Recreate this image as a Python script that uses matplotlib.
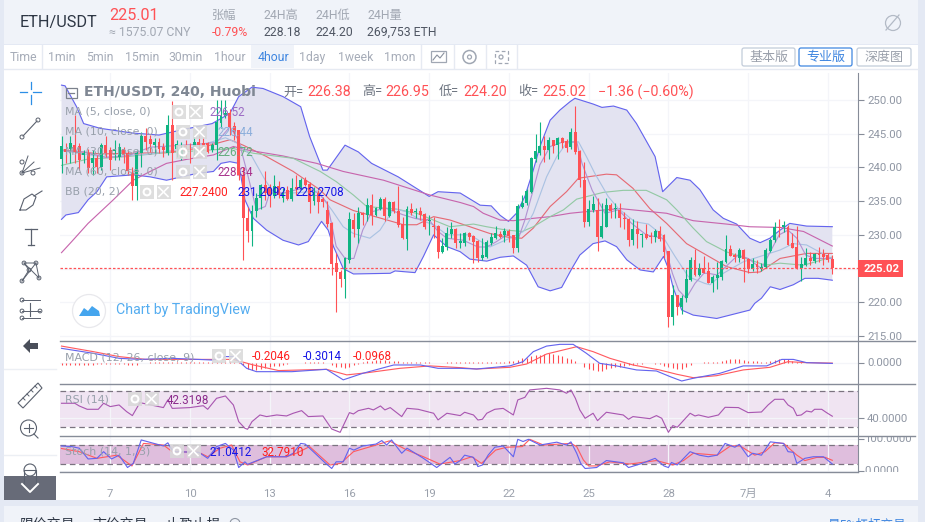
"""ETH/USDT 4 hour chart with overlays and oscillators, inside the exchange page."""

import matplotlib
matplotlib.use("Agg")
import matplotlib.pyplot as plt
from matplotlib.patches import Circle, FancyBboxPatch, Polygon, Rectangle

plt.rcParams["font.family"] = ["Roboto", "Noto Sans CJK SC", "DejaVu Sans"]
plt.rcParams["axes.unicode_minus"] = False

# ── Candles ────────────────────────────────────────────────────────────────
opens = [
    241.2, 242.8, 242.8, 243.3, 243.2, 241.9, 242.1, 240.6, 241.4, 240.1,
    243.3, 242.6, 242.5, 241.6, 242.8, 242.2, 239.1, 237.2, 242.1, 244.6,
    244.2, 243.3, 243.7, 243.1, 242.1, 246.3, 242.8, 241.4, 243.3, 243.3,
    243.1, 243.8, 243.6, 243.6, 242.6, 243.3, 246.6, 247.6, 248.0, 246.1,
    245.55, 238.9, 232.45, 230.5, 233.6, 235.4, 237.4, 236.9, 235.7, 237.2,
    235.4, 236.65, 235.3, 237.1, 237.05, 238.2, 237.6, 235.0, 236.15, 235.27,
    233.69, 231.7, 225.78, 224.54, 223.46, 226.27, 232.2, 230.82, 233.29, 232.95,
    234.43, 232.95, 233.79, 235.32, 232.8, 234.87, 233.59, 231.6, 229.39, 233.79,
    233.4, 233.54, 233.1, 232.1, 231.32, 231.32, 227.41, 228.15, 230.13, 230.82,
    228.74, 228.74, 230.23, 229.83, 229.14, 226.52, 226.67, 228.74, 229.49, 230.13,
    229.98, 230.57, 229.98, 228.0, 234.08, 234.68, 236.41, 241.2, 242.09, 243.18,
    242.58, 244.07, 243.33, 244.32, 243.97, 242.98, 245.2, 242.49, 238.13, 231.95,
    233.68, 233.68, 229.63, 231.21, 234.42, 233.78, 233.68, 232.5, 232.35, 229.23,
    230.86, 230.0, 230.12, 229.83, 229.63, 230.57, 229.97, 227.6, 217.86, 221.08,
    219.35, 220.58, 223.3, 226.27, 224.04, 225.03, 224.64, 222.82, 223.66, 223.8,
    226.03, 227.91, 227.02, 226.62, 227.76, 226.37, 224.89, 225.68, 224.89, 225.19,
    227.66, 229.24, 231.12, 231.12, 231.12, 228.75, 228.25, 225.04, 225.53, 226.62,
    226.18, 227.16, 227.16, 227.02, 226.38,
]
highs = [
    244.7, 243.6, 244.6, 247.8, 243.6, 242.6, 242.8, 242.6, 241.8, 243.6,
    244.6, 243.1, 244.1, 243.6, 243.1, 242.6, 240.1, 242.6, 245.3, 245.8,
    244.8, 244.3, 244.3, 243.6, 247.8, 249.8, 244.1, 243.8, 244.1, 243.6,
    244.6, 244.8, 244.8, 243.8, 243.6, 250.0, 250.0, 250.0, 248.6, 246.8,
    245.55, 240.0, 234.2, 234.4, 236.2, 237.6, 239.4, 237.6, 238.9, 238.0,
    236.9, 237.2, 238.5, 238.9, 238.5, 238.6, 237.9, 237.15, 236.65, 235.57,
    235.07, 231.9, 227.26, 224.8, 226.67, 233.44, 233.2, 234.18, 233.44, 235.42,
    236.06, 234.18, 235.57, 235.67, 235.07, 235.07, 237.25, 232.7, 234.28, 234.68,
    233.93, 234.08, 233.29, 232.95, 232.7, 231.4, 229.49, 231.22, 231.96, 230.97,
    230.33, 230.47, 230.47, 229.98, 229.24, 229.49, 229.24, 230.23, 231.31, 230.62,
    230.97, 230.82, 229.98, 234.58, 235.91, 236.75, 241.6, 244.91, 246.69, 244.66,
    244.46, 244.07, 244.46, 244.56, 244.17, 245.8, 249.11, 242.58, 240.85, 235.17,
    235.76, 235.41, 234.67, 235.51, 234.77, 234.67, 234.77, 233.43, 232.45, 232.3,
    232.05, 230.22, 231.61, 230.47, 230.82, 231.31, 230.12, 227.6, 222.56, 221.08,
    221.08, 224.88, 226.66, 227.85, 225.77, 226.86, 226.03, 224.05, 226.03, 226.28,
    229.98, 228.5, 227.26, 228.0, 227.86, 226.52, 226.52, 226.28, 225.78, 228.0,
    229.49, 231.96, 232.31, 232.06, 231.47, 230.33, 231.32, 226.77, 228.0, 227.51,
    227.36, 228.25, 227.86, 227.26, 226.95,
]
lows = [
    239.1, 240.6, 240.6, 240.6, 239.6, 240.6, 239.1, 238.9, 239.1, 239.6,
    241.6, 239.6, 241.1, 241.1, 240.6, 238.9, 235.2, 235.2, 240.1, 242.6,
    242.3, 242.1, 242.1, 241.6, 241.8, 238.1, 241.6, 241.1, 241.6, 240.6,
    241.8, 242.6, 242.6, 242.1, 242.3, 241.1, 245.8, 247.3, 244.8, 244.1,
    238.1, 226.3, 229.0, 228.35, 232.6, 233.9, 235.2, 234.1, 235.4, 235.4,
    234.8, 235.2, 235.0, 235.9, 236.65, 237.25, 233.2, 234.4, 233.2, 234.18,
    231.22, 224.05, 218.6, 222.22, 220.59, 225.88, 229.73, 228.84, 231.46, 232.1,
    231.46, 232.8, 233.69, 232.1, 232.7, 233.2, 231.22, 229.39, 227.76, 232.95,
    232.45, 232.2, 230.82, 229.98, 229.49, 226.52, 227.26, 227.76, 229.49, 228.0,
    228.0, 228.4, 229.24, 225.78, 226.03, 226.27, 226.52, 228.5, 229.34, 229.49,
    228.99, 228.99, 227.26, 227.51, 233.93, 234.43, 236.16, 240.86, 241.84, 240.86,
    241.2, 242.09, 241.2, 242.83, 242.34, 242.68, 241.99, 237.15, 231.21, 231.31,
    233.43, 227.65, 229.48, 231.11, 232.45, 232.45, 231.21, 230.86, 228.39, 228.49,
    227.99, 228.24, 229.43, 228.74, 228.99, 229.13, 226.52, 216.38, 216.63, 218.11,
    218.21, 220.09, 223.2, 223.89, 223.89, 224.29, 222.82, 221.58, 221.93, 223.31,
    225.88, 226.87, 226.03, 226.03, 223.06, 224.4, 224.69, 224.3, 224.69, 225.04,
    227.51, 229.0, 229.74, 230.48, 228.5, 228.0, 224.89, 223.21, 225.39, 225.53,
    225.78, 226.03, 225.53, 226.03, 224.20,
]
closes = [
    243.2, 242.3, 243.6, 242.3, 241.1, 242.1, 239.9, 241.4, 240.1, 243.3,
    242.2, 241.1, 242.8, 243.1, 241.8, 239.4, 237.2, 242.2, 244.6, 243.8,
    243.5, 243.8, 242.8, 242.6, 246.3, 242.1, 243.5, 242.8, 243.1, 242.8,
    243.8, 243.3, 243.1, 242.3, 243.3, 246.8, 247.6, 248.0, 246.0, 245.3,
    238.9, 232.45, 230.5, 233.6, 235.4, 237.4, 236.2, 235.7, 237.2, 235.9,
    236.2, 235.3, 237.0, 236.75, 238.2, 237.4, 234.9, 236.4, 234.9, 234.92,
    231.6, 225.68, 224.54, 223.46, 226.52, 232.3, 230.82, 233.2, 233.0, 234.43,
    232.95, 233.93, 235.32, 232.85, 234.87, 233.59, 231.46, 229.49, 233.79, 233.29,
    233.5, 232.9, 231.12, 232.2, 231.22, 227.5, 228.35, 230.23, 230.82, 228.84,
    229.14, 230.23, 229.63, 228.99, 226.52, 227.01, 228.99, 229.63, 230.23, 229.73,
    230.57, 229.83, 228.0, 234.28, 234.78, 236.55, 241.35, 242.44, 243.18, 242.58,
    244.07, 243.18, 244.32, 243.67, 242.83, 245.2, 242.34, 238.14, 231.95, 233.78,
    234.57, 229.73, 231.31, 234.42, 233.58, 233.93, 232.45, 232.3, 229.23, 230.86,
    230.07, 230.07, 229.58, 229.73, 230.57, 229.33, 227.5, 217.86, 221.08, 219.35,
    220.68, 223.45, 226.27, 224.04, 225.03, 224.39, 222.91, 223.71, 224.05, 226.13,
    227.91, 226.92, 226.67, 227.76, 226.37, 224.89, 225.68, 225.19, 225.19, 227.76,
    229.24, 231.12, 230.97, 231.47, 228.5, 228.0, 225.04, 225.68, 226.52, 226.13,
    227.16, 227.07, 226.77, 226.28, 225.02,
]

# ── Overlays, read at the bends of each line ───────────────────────────────
bb_upper_idx = [0, 0.8, 3.4, 5, 8.7, 16, 22, 27, 34, 38, 40, 43, 45.5, 50, 54, 56, 59, 60, 64,
                67, 70, 76, 83, 85, 90, 92, 94.5, 97, 99, 100.9, 102.7, 104.6, 106.5, 108,
                110.3, 112.5, 114.8, 115.9, 120, 122, 124.6, 127.6, 129.8, 134, 135.7, 138.9,
                141.9, 144.1, 147.1, 149.4, 152.4, 155.4, 157.7, 159.9, 162.2, 164.4, 168.2, 174]
bb_upper_val = [252.2, 252.1, 249.0, 246.5, 245.8, 245.1, 244.8, 245.55, 246.5, 248.0, 250.5,
                251.9, 251.7, 250.5, 249.0, 244.6, 239.6, 239.6, 243.3, 242.3, 240.6, 238.6,
                235.7, 236.4, 236.2, 235.4, 234.4, 234.3, 232.9, 232.0, 233.2, 235.7, 239.6,
                243.1, 247.0, 248.5, 249.75, 250.25, 249.4, 248.9, 249.1, 248.5, 246.5, 241.6,
                236.4, 238.5, 238.1, 236.7, 233.7, 232.45, 231.6, 229.5, 228.84, 229.5, 230.7,
                231.7, 231.3, 231.21]
bb_lower_idx = [0, 1, 3.8, 6, 8, 10.2, 16.2, 20, 23.7, 30.5, 34.3, 36, 38, 40, 41.4, 43.3, 46.3,
                50, 53.5, 55.7, 58.7, 60.2, 61.4, 63.6, 65.9, 74.2, 75.3, 79.8, 81.7, 84, 87, 90,
                92.2, 96, 99, 102, 105, 107.6, 110.3, 112.9, 115.2, 117, 120, 122.7, 125.3, 127.6,
                130.6, 133.6, 135.9, 137, 138.1, 140, 142.6, 147.9, 155.4, 156.5, 158, 160, 162.2,
                165.2, 167.8, 170.8, 174]
bb_lower_val = [232.3, 232.95, 233.3, 235.2, 236.4, 238.6, 238.9, 238.6, 238.1, 239.1, 239.4,
                240.6, 240.85, 240.6, 235.2, 232.45, 230.7, 229.2, 228.5, 229.0, 232.0, 230.7,
                228.25, 225.0, 224.2, 224.3, 224.65, 224.4, 226.8, 230.0, 228.25, 227.5, 226.4,
                226.1, 226.67, 226.87, 225.5, 222.3, 221.7, 222.2, 225.0, 227.0, 228.7, 229.1,
                228.25, 226.3, 224.8, 224.5, 226.8, 225.0, 222.1, 218.85, 218.1, 217.6, 218.85,
                219.85, 220.6, 222.3, 221.9, 222.6, 223.55, 223.55, 223.27]
bb_basis_idx = [0, 8.7, 16, 23.7, 31, 38, 41, 46.3, 52.3, 58.4, 60.6, 65.9, 71.9, 77.2, 80.2, 84,
                87.7, 92.2, 96.7, 101.2, 103.9, 106.5, 110.3, 114, 116.7, 123, 125.3, 129, 132.8,
                136.6, 141.1, 145.6, 150.1, 155.4, 157.7, 162.2, 168.2, 174]
bb_basis_val = [242.6, 242.0, 242.1, 242.2, 242.85, 244.1, 243.3, 241.6, 239.4, 236.65, 235.2,
                233.6, 232.5, 231.5, 231.5, 232.7, 232.2, 231.2, 230.2, 229.6, 229.5, 231.0,
                234.2, 236.4, 238.4, 239.0, 238.9, 236.9, 233.9, 231.7, 228.7, 227.0, 225.3,
                224.4, 224.5, 226.5, 227.25, 227.24]
ma5_idx = [0, 5, 10, 15, 20, 25, 30, 35, 38, 40, 42, 44, 46, 47, 50, 55, 58, 60, 62, 64, 66, 68,
           70, 73, 77, 80, 83, 85, 87, 90.7, 94, 96, 98.2, 100.5, 103, 104.6, 106.5, 108, 110.3,
           113.3, 116.3, 117.5, 119.8, 122.7, 125.7, 128.7, 132, 135.7, 137.9, 139.3, 141, 143,
           145, 146, 148, 152.7, 155, 158, 160, 162, 164, 166, 168, 170, 174]
ma5_val = [242.5, 242.3, 241.5, 241.7, 243.0, 243.2, 243.4, 243.7, 246.0, 244.0, 239.0, 233.7,
           234.2, 236.2, 236.2, 237.0, 236.2, 234.7, 228.3, 226.5, 226.5, 230.7, 233.4, 234.0,
           233.0, 232.4, 232.2, 230.5, 229.5, 229.2, 228.2, 228.2, 229.0, 230.0, 229.2, 232.2,
           236.7, 240.4, 243.1, 243.8, 243.8, 240.6, 236.6, 233.2, 233.7, 231.7, 230.0, 229.5,
           224.3, 221.8, 220.6, 222.8, 224.3, 224.3, 224.05, 227.0, 226.5, 225.0, 227.5, 230.0,
           230.7, 229.5, 227.0, 226.5, 226.52]
ma10_idx = [0, 10, 20, 30, 37, 40, 43, 46, 48, 52, 58, 59, 61, 63.6, 65.9, 69.6, 71.9, 75, 78, 81,
            84, 87, 92.2, 96.7, 101.2, 104.3, 106.5, 109.5, 111.8, 114, 116.7, 118.5, 120.4, 123.4,
            125.7, 129.4, 132.5, 135.5, 138.5, 141.5, 145.2, 146.4, 149.4, 153.9, 157.7, 162.2,
            165.2, 168.2, 174]
ma10_val = [242.5, 241.5, 242.0, 243.0, 244.4, 243.5, 241.6, 238.1, 236.2, 236.2, 236.5, 235.4,
            233.7, 231.2, 230.2, 229.5, 230.7, 233.9, 233.4, 232.2, 231.5, 230.0, 230.0, 228.2,
            229.5, 230.5, 233.2, 238.6, 241.6, 243.6, 243.8, 241.6, 239.1, 235.7, 233.9, 231.95,
            231.6, 230.0, 226.8, 223.8, 222.8, 222.6, 224.3, 226.0, 226.8, 227.75, 228.7, 228.5,
            226.44]
ma30_idx = [0, 5.7, 14.7, 22, 38.8, 43.3, 52.3, 58.4, 62, 65.9, 68.9, 75.7, 80.2, 84.7, 87.7, 93,
            96, 100.5, 104, 106.5, 110.3, 113.3, 116.3, 122.3, 126.8, 132, 136.6, 138.9, 142.6,
            145.6, 150, 155.4, 158.8, 162.2, 167.5, 174]
ma30_val = [240.3, 241.2, 241.6, 242.1, 242.8, 242.1, 241.35, 239.4, 237.9, 235.9, 234.2, 233.8,
            233.2, 232.0, 231.2, 231.6, 231.2, 230.7, 230.5, 231.2, 232.7, 233.7, 235.3, 236.3,
            236.6, 236.6, 235.2, 233.7, 231.0, 229.0, 227.5, 226.3, 225.5, 225.8, 225.5, 226.72]
ma60_idx = [0, 2.3, 6, 11.7, 16.2, 20, 23.7, 28.3, 34.3, 38.8, 41.8, 50, 57.6, 63.6, 72.7, 83.2,
            90, 93, 95.2, 99, 102, 106.5, 110.3, 114.8, 117.8, 126, 136.6, 142.6, 150.1, 155.4,
            162.2, 167.5, 174]
ma60_val = [227.36, 229.0, 231.7, 235.2, 238.1, 239.4, 240.6, 241.2, 241.85, 243.1, 242.6, 241.7,
            240.6, 239.4, 238.1, 235.9, 234.8, 234.2, 233.2, 232.2, 232.1, 232.45, 232.7, 233.2,
            233.4, 233.9, 233.2, 232.1, 231.6, 231.2, 231.1, 230.5, 228.34]

# ── MACD ───────────────────────────────────────────────────────────────────
macd_idx = [0, 7.2, 13, 17.7, 25, 34, 37, 38.8, 41.8, 44, 52, 59.8, 63.6, 68, 75, 81, 85, 90, 93.7,
            101.2, 104.2, 106.5, 109.5, 112.5, 115.5, 118.5, 121.5, 125.3, 129.8, 134.3, 137.4, 140,
            142.6, 148.6, 153.9, 159.2, 162.6, 165.2, 168.2, 174]
macd_val = [4.57, 2.96, 1.35, 1.0, 1.35, 0.8, 1.9, 1.9, -1.88, -2.96, -2.96, -2.2, -5.6, -3.5,
            -0.8, -0.8, -1.88, -1.88, -2.1, -1.1, 0.27, 3.5, 5.3, 5.86, 5.86, 2.96, -0.27, -1.1,
            -2.4, -2.74, -4.57, -5.97, -5.1, -3.5, -1.1, -1.1, 1.0, 1.0, -0.05, -0.3]
signal_idx = [0, 7.2, 13, 19, 31, 38.8, 43.3, 49, 59.8, 64.4, 69, 76.4, 83.2, 90, 93.7, 101.2, 105,
              109.5, 116.3, 120, 123.8, 129, 135, 138.9, 142.6, 147.9, 153.9, 159.9, 164, 168.2, 174]
signal_val = [5.3, 3.5, 1.9, 1.0, 1.0, 1.0, -0.8, -2.6, -2.2, -4.0, -3.3, -1.88, -1.1, -1.66, -2.1,
              -1.56, -0.48, 2.74, 5.1, 3.5, 1.35, -0.8, -2.4, -3.8, -4.9, -4.25, -2.4, -1.56, 0.27,
              -0.05, -0.2]
macd_hist = [
    -0.7, -0.8, -0.8, -0.7, -0.9, -0.8, -0.7, -0.8, -0.6, -0.6,
    -0.5, -0.6, -0.5, -0.5, -0.5, -0.8, -0.9, -0.8, -0.3, -0.1,
    0.1, 0.2, 0.1, 0.1, 0.2, 0.3, 0.2, 0.1, 0.1, 0.1,
    0.1, 0.1, 0.1, 0.1, 0.2, 0.2, 0.3, 0.4, 0.4, 0.3,
    0.1, -0.8, -2.0, -2.4, -2.4, -2.2, -1.9, -1.6, -1.2, -1.0,
    -0.7, -0.5, -0.3, -0.2, -0.1, 0.1, 0.1, 0.1, 0.1, 0.1,
    -0.2, -0.8, -1.3, -1.5, -1.8, -1.6, -0.9, -0.4, 0.2, 0.4,
    0.6, 0.7, 0.7, 0.7, 0.6, 0.5, 0.5, 0.3, 0.3, 0.2,
    0.3, 0.2, 0.1, 0.1, -0.1, -0.2, -0.2, 0.1, 0.1, 0.1,
    0.1, 0.1, 0.05, 0.1, 0.1, 0.05, 0.05, 0.2, 0.2, 0.2,
    0.3, 0.5, 0.6, 0.8, 1.3, 1.6, 2.2, 2.4, 2.4, 2.7,
    3.0, 2.7, 2.3, 2.0, 1.4, 1.0, 0.6, -0.3, -1.5, -2.0,
    -2.4, -2.6, -2.6, -2.2, -1.9, -1.6, -1.3, -1.1, -0.8, -0.7,
    -0.5, -0.4, -0.3, -0.3, -0.4, -0.6, -1.1, -1.5, -1.9, -2.1,
    -2.2, -1.5, -0.8, -0.2, -0.1, 0.1, 0.1, 0.2, 0.3, 0.5,
    0.9, 1.1, 1.1, 1.1, 0.9, 0.6, 0.4, 0.4, 0.3, 0.3,
    0.4, 0.7, 1.0, 1.2, 1.0, 0.4, 0.2, 0.1, -0.1, -0.1,
    -0.1, -0.1, -0.1, -0.1, -0.1,
]

# ── RSI ────────────────────────────────────────────────────────────────────
rsi_idx = [0, 3, 4, 5.8, 8.3, 9.5, 11, 13, 14.7, 16, 17.7, 23, 24, 25, 29, 32, 33, 35, 37, 38.8, 40,
           41.4, 42, 43, 44.8, 46.3, 48.6, 50.8, 52.3, 54.2, 55.7, 59, 61, 62.9, 65, 65.9, 67, 69.3,
           70.4, 72, 73, 74.2, 76.8, 78, 80.5, 84, 85, 87, 90, 91, 93, 94, 95, 96, 97.8, 99.7, 102,
           103, 104.6, 105.7, 109.5, 112.5, 114, 115, 116, 117, 118.2, 120, 121, 123, 126.8, 128, 129,
           132.8, 134.3, 135.5, 137, 138, 139, 141.9, 143, 143.8, 146, 148.3, 149.8, 152.8, 155, 158,
           159.5, 161, 163, 164, 165.2, 166, 167, 168.2, 169.3, 170, 171.6, 172.7, 174]
rsi_val = [56.7, 56.7, 53.7, 50.0, 50.0, 56.7, 53.0, 54.8, 47.4, 43.0, 57.4, 51.9, 60.4, 51.0, 51.9,
           54.0, 50.0, 62.2, 64.8, 54.8, 36.3, 28.9, 27.8, 36.3, 43.7, 41.9, 43.7, 42.6, 45.6, 48.5,
           41.9, 42.6, 28.1, 24.4, 46.3, 44.8, 48.5, 51.1, 49.3, 53.7, 49.3, 51.9, 41.9, 51.1, 50.0,
           45.6, 38.2, 45.6, 43.0, 46.7, 43.7, 38.1, 38.9, 45.6, 50.0, 51.0, 43.7, 60.4, 63.3, 71.5,
           73.3, 71.5, 67.8, 71.5, 62.2, 49.3, 40.0, 45.6, 37.4, 46.7, 43.7, 38.9, 41.9, 39.6, 43.0,
           40.0, 24.4, 31.9, 30.0, 45.6, 42.6, 43.7, 41.1, 43.7, 52.2, 51.9, 46.3, 47.0, 54.8, 61.1,
           61.1, 54.8, 51.1, 43.0, 43.7, 48.1, 47.0, 50.0, 50.0, 46.3, 42.32]

# ── Stochastic ─────────────────────────────────────────────────────────────
stoch_k_idx = [0, 2.3, 4, 6, 8, 9.5, 11.3, 13, 14.9, 16.2, 18, 23, 24, 25.2, 31, 33, 35, 37, 38.8, 40,
               41.4, 42, 46.3, 50.8, 52.3, 54, 55, 56, 59.5, 61, 62, 63.6, 65, 66, 68, 71, 72.3, 73.4,
               74.5, 76.8, 78, 81.7, 84.7, 87.7, 88.8, 90, 91, 93, 94, 95, 96.3, 97.8, 99.7, 102, 103,
               104.2, 105.4, 108, 111.8, 114, 115, 116.3, 117.2, 118.2, 120.8, 123, 126.8, 128, 130.6,
               134, 136, 137, 137.7, 139, 141.9, 144, 146, 148, 149.8, 152, 153, 155, 156, 158, 160,
               163, 164, 165.2, 166, 167.8, 169.7, 172, 174]
stoch_k_val = [78, 76, 71, 37, 39, 60, 37, 49, 10, 23, 97, 78, 88, 60, 58, 39, 76, 86, 65, 10, 28, 20,
               44, 44, 55, 86, 84, 71, 25, 7, 28, 28, 71, 65, 78, 84, 95, 81, 97, 55, 71, 39, 10, 42,
               21, 32, 49, 42, 13, 18, 49, 74, 78, 44, 99, 92, 99, 81, 90, 81, 91, 55, 23, 7, 10, 32,
               25, 10, 21, 39, 15, 10, 26, 18, 60, 49, 44, 49, 86, 74, 83, 44, 55, 49, 91, 86, 60, 58,
               23, 39, 44, 44, 21.04]
stoch_d_idx = [0, 4, 8, 12.5, 15.9, 18.5, 23, 25, 31, 33, 35.8, 38.4, 40.3, 42, 46.3, 50.8, 53, 56,
               60.6, 63, 65.9, 71, 74, 78, 81.7, 85.4, 90, 92.6, 94.8, 98, 100.5, 104, 105.7, 108.8,
               115, 116.3, 117.8, 119, 120.8, 123.8, 128.3, 134.3, 138, 140.4, 142.6, 148, 151, 153.2,
               156.5, 158.8, 161, 163, 166, 167.8, 170.5, 172.4, 174]
stoch_d_val = [70, 60, 39, 49, 15, 86, 81, 60, 58, 44, 71, 81, 28, 18, 44, 44, 55, 76, 18, 23, 60, 81,
               94, 65, 44, 21, 32, 44, 23, 65, 74, 76, 99, 81, 86, 76, 34, 15, 15, 28, 21, 32, 18, 32,
               55, 49, 78, 78, 49, 60, 88, 86, 49, 32, 42, 42, 32.79]

# ── Axis labels and readouts ───────────────────────────────────────────────
day_ticks = [11, 29, 47, 65, 83, 101, 119, 137, 155, 173]
day_labels = ["7", "10", "13", "16", "19", "22", "25", "28", "7月", "4"]
price_ticks = [215, 220, 225, 230, 235, 240, 245, 250]
intervals = ["Time", "1min", "5min", "15min", "30min", "1hour", "4hour", "1day", "1week", "1mon"]
interval_pos = [23, 62, 100, 142, 186, 230, 273, 312, 356, 400]
stat_heads = ["张幅", "24H高", "24H低", "24H量"]
stat_vals = ["-0.79%", "228.18", "224.20", "269,753 ETH"]
stat_pos = [212, 263, 315, 367]
last_close = 225.02

# ── Colours ────────────────────────────────────────────────────────────────
UP = "#0fb482"
DOWN = "#ff5155"
BLUE = "#6464ee"
GRID = "#f4f5f9"
AXIS = "#868c98"
TEXT_GREY = "#8f96a3"
ACCENT = "#3f86e0"
LINE_W = 0.82
W, H = 925, 522


def pane(fig, left, top, right, bottom, ylim):
    """Axes placed by pixel box, with the shared candle-index x range."""
    ax = fig.add_axes([left / W, 1 - bottom / H, (right - left) / W, (bottom - top) / H])
    ax.set_facecolor("none")
    ax.set_xlim(-0.34, 179.8)
    ax.set_ylim(*ylim)
    for side in ("top", "left", "bottom"):
        ax.spines[side].set_visible(False)
    ax.spines["right"].set_color(AXIS)
    ax.yaxis.tick_right()
    ax.tick_params(axis="y", colors=TEXT_GREY, length=4, width=0.8, pad=2.5, labelsize=8.2, color=AXIS)
    ax.set_xticks(day_ticks)
    ax.set_xticklabels([])
    ax.tick_params(axis="x", length=0)
    ax.grid(True, color=GRID, lw=0.9)
    ax.set_axisbelow(True)
    return ax


def draw_candles(ax):
    idx = list(range(len(opens)))
    colors = [UP if c >= o else DOWN for o, c in zip(opens, closes)]
    ax.vlines(idx, lows, highs, colors=colors, lw=0.8, zorder=3)
    ax.bar(idx, [abs(c - o) for o, c in zip(opens, closes)], bottom=[min(o, c) for o, c in zip(opens, closes)],
           width=0.66, color=colors, linewidth=0, zorder=4)


def draw_overlays(ax):
    band = list(zip(bb_upper_idx, bb_upper_val)) + list(zip(bb_lower_idx[::-1], bb_lower_val[::-1]))
    ax.add_patch(Polygon(band, closed=True, facecolor="#e3e3f1", edgecolor="none", zorder=1))
    ax.plot(bb_upper_idx, bb_upper_val, color=BLUE, lw=LINE_W, zorder=2)
    ax.plot(bb_lower_idx, bb_lower_val, color=BLUE, lw=LINE_W, zorder=2)
    ax.plot(bb_basis_idx, bb_basis_val, color="#e66a74", lw=LINE_W, zorder=2)
    ax.plot(ma60_idx, ma60_val, color="#c765ad", lw=LINE_W, zorder=2)
    ax.plot(ma30_idx, ma30_val, color="#93c9a4", lw=LINE_W, zorder=2)
    ax.plot(ma10_idx, ma10_val, color="#aac2e2", lw=LINE_W, zorder=2)
    ax.plot(ma5_idx, ma5_val, color="#b193d2", lw=LINE_W, zorder=2)


def draw_page(ax):
    """Page bands, interval bar and buttons, under the chart."""
    ax.add_patch(Rectangle((4, 0), 914, 44, fc="#f0f3f9", ec="none"))
    ax.add_patch(Rectangle((4, 45), 914, 455, fc="white", ec="none"))
    ax.add_patch(Rectangle((4, 506), 914, 16, fc="#f0f3f9", ec="none"))
    ax.plot([4, 918], [68.5, 68.5], color="#e6eaf2", lw=1)
    ax.plot([4, 56], [369, 369], color="#eceff4", lw=1)
    ax.plot([4, 56], [455, 455], color="#eceff4", lw=1)
    ax.add_patch(Rectangle((251, 45), 43, 23, fc="#f0f3f9", ec="none"))
    for x in [42, 421, 454, 486, 517]:
        ax.plot([x, x], [45, 68], color="#e6eaf2", lw=1)
    ax.add_patch(Rectangle((4, 476), 52, 24, fc="#676b78", ec="none"))
    for x0, x1, edge, label, col in [(742, 795, "#c2ccda", "基本版", "#9aa0ab"),
                                     (799, 852, ACCENT, "专业版", ACCENT),
                                     (857, 911, "#c2ccda", "深度图", "#9aa0ab")]:
        ax.add_patch(FancyBboxPatch((x0, 48), x1 - x0, 18, boxstyle="round,pad=0,rounding_size=2",
                                    fc="white", ec=edge, lw=0.9))
        ax.text((x0 + x1) / 2, 57.5, label, color=col, fontsize=9.4, ha="center", va="center")


def draw_tools(ax):
    """Rough line icons of the left drawing toolbar and the top-bar icons."""
    c = "#5a616e"
    ax.plot([20, 27], [92, 92], [33, 41], [92, 92], color="#2d8fe6", lw=0.9)
    ax.plot([30.5, 30.5], [82, 89], [30.5, 30.5], [95, 104], color="#2d8fe6", lw=0.9)
    ax.plot([23, 37], [136, 121], color=c, lw=0.8)
    for px, py in [(22, 137), (38, 120)]:
        ax.add_patch(Circle((px, py), 2, fc="white", ec=c, lw=0.7))
    for dx in [0, 6, 12]:
        ax.plot([22, 28 + dx], [173, 156 + dx], color=c, lw=0.7)
    for py in [162, 173]:
        ax.add_patch(Circle((22, py), 2, fc="white", ec=c, lw=0.7))
    ax.add_patch(Circle((33, 173), 2, fc="white", ec=c, lw=0.7))
    ax.plot([20, 24, 32, 36, 33, 26, 20], [210, 199, 194, 197, 205, 210, 210], color=c, lw=0.8)
    ax.plot([34, 42], [196, 191], color=c, lw=0.8)
    ax.plot([25, 37], [229, 229], [31, 31], [229, 245], [28, 34], [245, 245], color=c, lw=0.9)
    pts = [(22, 281), (29, 270), (24, 263), (36, 263), (39, 278)]
    ax.plot([p[0] for p in pts], [p[1] for p in pts], color=c, lw=0.7)
    ax.plot([22, 36], [281, 263], [24, 39], [263, 278], color=c, lw=0.7)
    for p in pts:
        ax.add_patch(Circle(p, 1.9, fc="white", ec=c, lw=0.7))
    for py, x0 in [(300, 22), (311, 22), (318, 22)]:
        ax.plot([x0, 40], [py, py], color=c, lw=0.7)
        ax.add_patch(Circle((x0, py), 1.9, fc="white", ec=c, lw=0.7))
    ax.add_patch(Circle((40, 311), 1.9, fc="white", ec=c, lw=0.7))
    ax.plot([30, 30], [303, 316], color=c, lw=0.8)
    ax.add_patch(Polygon([(23, 346), (30, 339), (30, 343), (38, 343), (38, 349), (30, 349), (30, 353)],
                         fc="#4a4f5a", ec="none"))
    ax.add_patch(Polygon([(18, 403), (38, 383), (42, 388), (23, 408)], fc="white", ec=c, lw=0.8))
    for k in range(4):
        ax.plot([23 + 4 * k, 25 + 4 * k], [398 - 4 * k, 400 - 4 * k], color=c, lw=0.7)
    ax.add_patch(Circle((28.5, 428), 8, fc="white", ec=c, lw=0.8))
    ax.plot([24, 33], [428, 428], [28.5, 28.5], [424, 432], [34, 38], [434, 438], color=c, lw=0.8)
    ax.plot([24, 24, 36, 36], [484, 470, 470, 484], color=c, lw=0.8)
    ax.add_patch(Circle((30, 470), 6, fc="none", ec=c, lw=0.8))
    ax.plot([22, 30, 38], [484, 492, 484], color="white", lw=1.4)
    ax.add_patch(Circle((893, 23), 7.5, fc="none", ec="#b3bac6", lw=0.9))
    ax.plot([886, 899], [30, 15], color="#b3bac6", lw=0.9)
    ax.add_patch(Rectangle((431, 51), 15, 11, fc="none", ec="#a0a7b3", lw=0.9))
    ax.plot([433, 437, 440, 444], [60, 55, 58, 53], color="#8a919e", lw=0.8)
    ax.add_patch(Circle((469.5, 57), 6.5, fc="none", ec="#a0a7b3", lw=1.1))
    ax.add_patch(Circle((469.5, 57), 2, fc="none", ec="#a0a7b3", lw=0.9))
    ax.add_patch(Rectangle((495, 51), 12.5, 12, fc="none", ec="#a0a7b3", lw=0.9, ls=(0, (3, 2))))
    ax.add_patch(Circle((501, 57), 2, fc="none", ec="#a0a7b3", lw=0.9))


def draw_header(ax):
    ax.text(20, 23, "ETH/USDT", color="#2d3644", fontsize=11.7, va="center")
    ax.text(109, 16, "225.01", color=DOWN, fontsize=11.6, va="center")
    ax.text(109, 32, "≈ 1575.07 CNY", color="#a2a8b3", fontsize=8.8, va="center")
    for x, head, val in zip(stat_pos, stat_heads, stat_vals):
        ax.text(x, 15.5, head, color="#a2a8b3", fontsize=8.8, va="center")
        ax.text(x, 32, val, color=DOWN if val.startswith("-") else "#4f5663", fontsize=8.8, va="center")
    for x, label in zip(interval_pos, intervals):
        ax.text(x, 61, label, color=ACCENT if label == "4hour" else "#a6acb8", fontsize=8.8,
                ha="center", va="baseline")
    for x, label in [(20, "限价交易"), (92, "市价交易"), (165, "止盈止损")]:
        ax.text(x, 525, label, color="#2d3644", fontsize=10, va="center", clip_on=True)
    ax.add_patch(Circle((235, 523.5), 5, fc="none", ec="#8f96a3", lw=0.8, clip_on=True))
    ax.text(827, 525, "最5%杠杆交易", color=ACCENT, fontsize=9, va="center", clip_on=True)


def button_pair(ax, x, y):
    """Gear and close squares next to a study legend."""
    for bx in (x, x + 16.5):
        ax.add_patch(Rectangle((bx - 7, y - 7), 14, 14, fc="#d9d9d9", ec="none", alpha=0.85, zorder=6))
    ax.add_patch(Circle((x, y), 3.4, fc="none", ec="white", lw=1.5, zorder=7))
    ax.plot([x + 12, x + 21], [y - 4.5, y + 4.5], [x + 12, x + 21], [y + 4.5, y - 4.5], color="white", lw=1.2, zorder=7)


def draw_legends(ax):
    grey = "#98a0ab"
    mono = ["DejaVu Sans", "Noto Sans CJK SC"]
    ax.add_patch(Rectangle((65.5, 87.5), 11, 10, fc="none", ec="#7b818c", lw=0.9))
    ax.plot([68, 74], [92.5, 92.5], color="#7b818c", lw=0.9)
    ax.text(83.5, 92, "ETH/USDT, 240, Huobi", color="#7f8793", fontsize=10.1, fontweight="bold",
            family=mono, va="center", zorder=8)
    x_pairs = [(283, "开=", "226.38", 307), (362, "高=", "226.95", 385), (439, "低=", "224.20", 463),
               (518, "收=", "225.02", 542)]
    for x, head, val, xv in x_pairs:
        ax.text(x, 92, head, color="#6d7480", fontsize=9.4, va="center", zorder=8)
        ax.text(xv, 92, val, color=DOWN, fontsize=10.3, va="center", zorder=8)
    ax.text(598, 92, "−1.36 (−0.60%)", color=DOWN, fontsize=10.3, va="center", zorder=8)
    rows = [(112, "MA (5, close, 0)", 179, [("226.52", 210, "#9c6bc4")]),
            (132, "MA (10, close, 0)", 183, [("226.44", 217, "#8caedb")]),
            (152, "MA (30, close, 0)", 183, [("226.72", 217, "#63ad7e")]),
            (172, "MA (60, close, 0)", 183, [("228.34", 217, "#a8318c")]),
            (192, "BB (20, 2)", 147, [("227.2400", 179, "#ff1f1f"), ("231.2092", 238, "#1414e6"),
                                      ("223.2708", 296, "#1414e6")])]
    for y, label, bx, values in rows:
        ax.text(65, y, label, color=grey, fontsize=7.9, family=mono, va="center", zorder=8)
        button_pair(ax, bx, y)
        for val, x, col in values:
            ax.text(x, y, val, color=col, fontsize=8.4, va="center", zorder=8)
    ax.text(65, 357, "MACD (12, 26, close, 9)", color=grey, fontsize=7.9, family=mono, va="center", zorder=8)
    button_pair(ax, 219, 356)
    for val, x, col in [("-0.2046", 252, "#ff1f1f"), ("-0.3014", 303, "#1414e6"), ("-0.0968", 353, "#ff1f1f")]:
        ax.text(x, 357, val, color=col, fontsize=8.4, va="center", zorder=8)
    ax.text(65, 400, "RSI (14)", color=grey, fontsize=7.9, family=mono, va="center", zorder=8)
    button_pair(ax, 135, 399)
    ax.text(167, 400, "42.3198", color="#8a2a8a", fontsize=8.4, va="center", zorder=8)
    ax.text(65, 452, "Stoch (14, 1, 3)", color=grey, fontsize=7.9, family=mono, va="center", zorder=8)
    button_pair(ax, 177, 451)
    ax.text(209, 452, "21.0412", color="#1414e6", fontsize=8.4, va="center", zorder=8)
    ax.text(261, 452, "32.7910", color="#ff1f1f", fontsize=8.4, va="center", zorder=8)
    # tradingview mark
    ax.add_patch(Circle((89, 311), 16.5, fc="white", ec="#e8e8ec", lw=0.9, zorder=8))
    ax.add_patch(Polygon([(79, 316), (84, 308), (88, 311), (92, 306), (99, 311), (100, 316)],
                         fc="#45a5ee", ec="none", zorder=9))
    ax.text(115.5, 310, "Chart by TradingView", color="#55adf0", fontsize=10.2, va="center", zorder=8)
    # last price tag
    ax.add_patch(Rectangle((858, 260), 45, 17, fc=DOWN, ec="none", zorder=8))
    ax.text(864, 268.5, "225.02", color="white", fontsize=8.2, fontweight="bold", va="center", zorder=9)
    # separators
    for y in [341, 384, 436.3]:
        ax.plot([60, 915], [y, y], color=AXIS, lw=1, zorder=7)
    ax.plot([60, 858], [472, 472], color=AXIS, lw=1, zorder=7)
    # labels cut off by the pane edges
    clip = Rectangle((859, 437), 60, 35, transform=ax.transData)
    for y, label in [(439, "100.0000"), (470.5, "0.0000")]:
        t = ax.text(864, y, label, color=TEXT_GREY, fontsize=8.2, va="center", zorder=8)
        t.set_clip_on(True)
        t.set_clip_path(clip)


def main():
    fig = plt.figure(figsize=(W / 100, H / 100), dpi=100, facecolor="#e4e9f4")
    page = fig.add_axes([0, 0, 1, 1], zorder=0)
    page.set_xlim(0, W)
    page.set_ylim(H, 0)
    page.axis("off")
    draw_page(page)
    draw_header(page)

    main_ax = pane(fig, 60, 73, 858, 341, (214.26, 254.0))
    main_ax.set_yticks(price_ticks)
    # the 225 label sits under the last price tag
    main_ax.set_yticklabels(["" if p == 225 else f"{p:.2f}" for p in price_ticks])
    draw_overlays(main_ax)
    draw_candles(main_ax)
    main_ax.axhline(last_close, color=DOWN, lw=0.9, ls=(0, (2, 1.5)), zorder=5)

    macd_ax = pane(fig, 60, 341, 858, 384, (-6.94, 6.94))
    macd_ax.set_yticks([0])
    macd_ax.set_yticklabels(["0.0000"])
    macd_ax.vlines(range(len(macd_hist)), 0, macd_hist, colors="#ff4a50", lw=0.8)
    macd_ax.plot(signal_idx, signal_val, color="#ff5b60", lw=LINE_W)
    macd_ax.plot(macd_idx, macd_val, color=BLUE, lw=LINE_W)

    rsi_ax = pane(fig, 60, 384, 858, 436.3, (20.0, 78.1))
    rsi_ax.set_yticks([40])
    rsi_ax.set_yticklabels(["40.0000"])
    rsi_ax.axhspan(30, 70, color="#f0e4f2", lw=0, zorder=0)
    rsi_ax.axhline(70, color="#7b7480", lw=0.9, ls=(0, (4.5, 3)))
    rsi_ax.axhline(30, color="#7b7480", lw=0.9, ls=(0, (4.5, 3)))
    rsi_ax.plot(rsi_idx, rsi_val, color="#a957b1", lw=LINE_W)

    stoch_ax = pane(fig, 60, 436.3, 858, 472, (-4.1, 108.5))
    stoch_ax.set_yticks([0, 100])
    stoch_ax.set_yticklabels([])
    stoch_ax.axhspan(20, 80, color="#dfbedd", lw=0, zorder=0)
    stoch_ax.axhline(80, color="#7b7480", lw=0.9, ls=(0, (4.5, 3)))
    stoch_ax.axhline(20, color="#7b7480", lw=0.9, ls=(0, (4.5, 3)))
    stoch_ax.plot(stoch_d_idx, stoch_d_val, color="#ff5b60", lw=LINE_W)
    stoch_ax.plot(stoch_k_idx, stoch_k_val, color=BLUE, lw=LINE_W)
    stoch_ax.set_xticklabels(day_labels, color="#9aa0ab", fontsize=8.2)
    stoch_ax.tick_params(axis="x", pad=12)

    top = fig.add_axes([0, 0, 1, 1], zorder=10)
    top.set_xlim(0, W)
    top.set_ylim(H, 0)
    top.axis("off")
    draw_tools(top)
    draw_legends(top)

    fig.savefig("out.png", dpi=100, facecolor=fig.get_facecolor())


if __name__ == "__main__":
    main()
